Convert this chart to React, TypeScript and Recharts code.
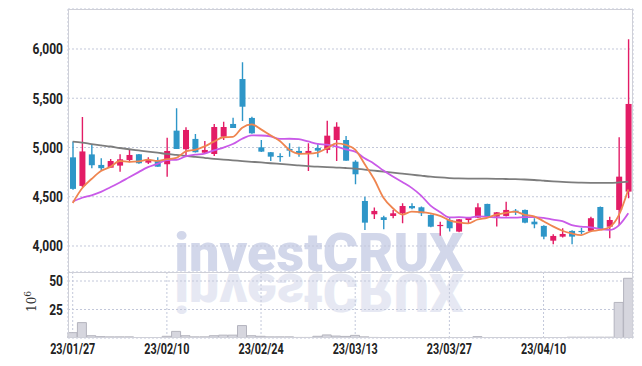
import React from 'react';
import { ComposedChart, Bar, Line, XAxis, YAxis, CartesianGrid } from 'recharts';

const dates = [
  '23/01/27', '23/01/30', '23/01/31', '23/02/01', '23/02/02', '23/02/03', '23/02/06', '23/02/07', '23/02/08', '23/02/09',
  '23/02/10', '23/02/13', '23/02/14', '23/02/15', '23/02/16', '23/02/17', '23/02/20', '23/02/21', '23/02/22', '23/02/23',
  '23/02/24', '23/02/27', '23/02/28', '23/03/02', '23/03/03', '23/03/06', '23/03/07', '23/03/08', '23/03/09', '23/03/10',
  '23/03/13', '23/03/14', '23/03/15', '23/03/16', '23/03/17', '23/03/20', '23/03/21', '23/03/22', '23/03/23', '23/03/24',
  '23/03/27', '23/03/28', '23/03/29', '23/03/30', '23/03/31', '23/04/03', '23/04/04', '23/04/05', '23/04/06', '23/04/07',
  '23/04/10', '23/04/11', '23/04/12', '23/04/13', '23/04/14', '23/04/17', '23/04/18', '23/04/19', '23/04/20', '23/04/21',
];

const opens = [
  4900, 4610, 4930, 4823, 4795, 4816, 4873, 4931, 4846, 4873,
  4830, 5171, 4982, 5087, 4947, 4934, 5109, 5239, 5695, 5300,
  5002, 4952, 4914, 4985, 4965, 4941, 4995, 4975, 5076, 5076,
  4856, 4457, 4322, 4292, 4305, 4332, 4406, 4393, 4315, 4204,
  4264, 4146, 4264, 4288, 4427, 4298, 4305, 4359, 4366, 4247,
  4204, 4054, 4095, 4153, 4153, 4153, 4396, 4196, 4366, 4552,
];
const highs = [
  5060, 5310, 5030, 4890, 4883, 4931, 4985, 4935, 4900, 4900,
  5100, 5398, 5205, 5137, 5066, 5239, 5262, 5303, 5865, 5313,
  5076, 4955, 4941, 5043, 5008, 5043, 5043, 5272, 5256, 5117,
  4870, 4501, 4390, 4308, 4366, 4434, 4434, 4400, 4320, 4247,
  4285, 4275, 4290, 4434, 4430, 4345, 4450, 4376, 4370, 4282,
  4210, 4119, 4180, 4160, 4186, 4298, 4400, 4298, 5104, 6098,
];
const lows = [
  4570, 4600, 4790, 4765, 4795, 4755, 4850, 4835, 4833, 4805,
  4704, 4985, 4924, 4950, 4940, 4914, 5076, 5198, 5269, 5140,
  4955, 4863, 4856, 4907, 4907, 4762, 4901, 4941, 4863, 4866,
  4627, 4163, 4275, 4170, 4282, 4231, 4373, 4305, 4190, 4105,
  4146, 4140, 4231, 4285, 4298, 4197, 4300, 4315, 4230, 4180,
  4069, 4018, 4085, 4018, 4119, 4150, 4163, 4079, 4214, 4485,
];
const closes = [
  4580, 4960, 4820, 4790, 4863, 4880, 4924, 4840, 4873, 4805,
  4965, 4985, 5178, 4952, 4975, 5208, 5208, 5198, 5414, 5144,
  4958, 4907, 4905, 4968, 4941, 4965, 4968, 5120, 5211, 4866,
  4728, 4237, 4356, 4264, 4332, 4406, 4383, 4332, 4196, 4214,
  4180, 4271, 4288, 4393, 4298, 4342, 4366, 4342, 4237, 4220,
  4095, 4102, 4122, 4095, 4143, 4282, 4173, 4264, 4704, 5442,
];
const ma5 = [
  4437, 4586, 4680, 4762, 4803, 4863, 4855, 4859, 4876, 4864,
  4881, 4894, 4961, 4977, 5011, 5060, 5104, 5108, 5201, 5234,
  5184, 5124, 5066, 4976, 4936, 4937, 4949, 4992, 5041, 5026,
  4979, 4832, 4680, 4490, 4383, 4319, 4348, 4343, 4330, 4306,
  4261, 4239, 4230, 4269, 4286, 4318, 4337, 4348, 4317, 4301,
  4252, 4199, 4155, 4127, 4111, 4149, 4163, 4191, 4313, 4573,
];
const ma10 = [
  4450, 4490, 4515, 4550, 4596, 4645, 4698, 4750, 4800, 4834,
  4872, 4875, 4910, 4927, 4938, 4971, 4999, 5035, 5089, 5123,
  5122, 5114, 5087, 5089, 5085, 5061, 5037, 5029, 5009, 4981,
  4958, 4891, 4836, 4766, 4705, 4649, 4590, 4512, 4410, 4345,
  4290, 4293, 4287, 4300, 4296, 4290, 4288, 4289, 4293, 4294,
  4285, 4268, 4252, 4212, 4196, 4190, 4171, 4163, 4210, 4333,
];
const maLong = [
  5059, 5050, 5035, 5022, 5010, 4995, 4982, 4970, 4958, 4947,
  4935, 4925, 4915, 4905, 4895, 4885, 4877, 4870, 4862, 4855,
  4848, 4840, 4833, 4826, 4818, 4810, 4805, 4800, 4796, 4792,
  4786, 4775, 4765, 4755, 4744, 4734, 4724, 4714, 4704, 4696,
  4690, 4686, 4684, 4683, 4683, 4682, 4680, 4678, 4675, 4670,
  4663, 4656, 4650, 4646, 4643, 4641, 4640, 4640, 4645, 4653,
];
const volumes = [
  4.7, 13.5, 2.0, 1.2, 1.0, 1.0, 1.0, 0.3, 0.3, 0.3,
  1.5, 5.8, 2.0, 1.0, 1.0, 2.0, 2.5, 2.5, 10.9, 2.0,
  1.5, 1.0, 1.0, 1.0, 0.5, 0.5, 1.5, 2.7, 1.7, 1.4,
  2.3, 1.0, 0.5, 0.4, 0.3, 0.3, 0.3, 0.3, 0.3, 0.3,
  0.3, 0.3, 0.3, 1.2, 0.3, 0.3, 0.3, 0.3, 0.3, 0.3,
  0.3, 0.3, 0.3, 0.7, 0.7, 0.7, 0.7, 0.7, 31.2, 52.4,
];

const dateTicks = ['23/01/27', '23/02/10', '23/02/24', '23/03/13', '23/03/27', '23/04/10'];
const priceTicks = [4000, 4500, 5000, 5500, 6000];
const volumeTicks = [25, 50];

const rows = dates.map((d, i) => ({
  date: d,
  range: [lows[i], highs[i]],
  open: opens[i],
  high: highs[i],
  low: lows[i],
  close: closes[i],
  vol: volumes[i],
  ma5: ma5[i],
  ma10: ma10[i],
  maLong: maLong[i],
}));

const RED = '#e31c66';
const BLUE = '#2e96c8';
const GRID = '#c3c8da';
const FONT = "Roboto, 'DejaVu Sans', sans-serif";

const YTick = (props: any) => {
  const { x, y, payload } = props;
  const label = Number(payload.value).toLocaleString('en-US');
  return (
    <text
      transform={`translate(${x},${y}) scale(0.8,1)`}
      textAnchor="end"
      dy="0.36em"
      fontFamily={FONT}
      fontWeight={700}
      fontSize={15}
      fill="#222"
    >
      {label}
    </text>
  );
};

const XTick = (props: any) => {
  const { x, y, payload } = props;
  return (
    <text
      transform={`translate(${x},${y}) scale(0.72,1)`}
      textAnchor="middle"
      dy="0.72em"
      fontFamily={FONT}
      fontWeight={700}
      fontSize={15}
      fill="#222"
    >
      {payload.value}
    </text>
  );
};

const Candle = (props: any) => {
  let { x, y, width, height } = props;
  const p = props.payload || {};
  const { open, close, high, low } = p;
  if (height < 0) {
    y = y + height;
    height = -height;
  }
  const span = high - low;
  const ratio = span > 0 ? height / span : 0;
  const py = (v: number) => y + (high - v) * ratio;
  const up = close >= open;
  const color = up ? RED : BLUE;
  const top = py(Math.max(open, close));
  const bot = py(Math.min(open, close));
  const cx = x + width / 2;
  return (
    <g>
      <line x1={cx} x2={cx} y1={y} y2={y + height} stroke={color} strokeWidth={1.4} />
      <rect x={x} y={top} width={width} height={Math.max(1.2, bot - top)} fill={color} />
    </g>
  );
};

export default function App() {
  return (
    <div style={{ position: 'absolute', left: 0, top: 0, width: 642, height: 366, background: '#fff', overflow: 'hidden' }}>
      <svg width={642} height={366} style={{ position: 'absolute', left: 0, top: 0 }}>
        <text id="wm" x={319} y={271} textAnchor="middle" fontFamily="Roboto, 'DejaVu Sans', sans-serif" fontWeight={900} fontSize={54} fill="#d2d7ea">
          investCRUX
        </text>
        <use href="#wm" transform="translate(0,545) scale(1,-1)" opacity={0.55} />
      </svg>

      <div style={{ position: 'absolute', left: 0, top: 0 }}>
        <ComposedChart width={642} height={272} data={rows} margin={{ top: 9, right: 9, left: 0, bottom: 0 }}>
          <CartesianGrid stroke={GRID} strokeDasharray="2 2" />
          <XAxis dataKey="date" ticks={dateTicks} interval={0} height={0} tick={false} axisLine={false} tickLine={false} />
          <YAxis
            width={68}
            domain={[3736, 6406]}
            allowDataOverflow
            ticks={priceTicks}
            axisLine={false}
            tickLine={false}
            tickSize={3}
            tickMargin={2}
            tick={<YTick />}
          />
          <Bar dataKey="range" barSize={6} shape={Candle} isAnimationActive={false} />
          <Line type="monotone" dataKey="maLong" stroke="#7d7d7d" strokeWidth={1.8} dot={false} isAnimationActive={false} />
          <Line type="monotone" dataKey="ma10" stroke="#c95ae8" strokeWidth={1.8} dot={false} isAnimationActive={false} />
          <Line type="monotone" dataKey="ma5" stroke="#ef8550" strokeWidth={1.8} dot={false} isAnimationActive={false} />
        </ComposedChart>
      </div>

      <div style={{ position: 'absolute', left: 0, top: 272 }}>
        <ComposedChart width={642} height={94} data={rows} margin={{ top: 0, right: 9, left: 0, bottom: 0 }} barCategoryGap={0}>
          <CartesianGrid stroke={GRID} strokeDasharray="2 2" />
          <XAxis
            dataKey="date"
            ticks={dateTicks}
            interval={0}
            height={28}
            axisLine={false}
            tickLine={false}
            tickSize={3}
            tickMargin={2}
            tick={<XTick />}
          />
          <YAxis
            width={68}
            domain={[0, 57.9]}
            allowDataOverflow
            ticks={volumeTicks}
            axisLine={false}
            tickLine={false}
            tickSize={3}
            tickMargin={2}
            tick={<YTick />}
          />
          <Bar dataKey="vol" fill="#d6d6de" stroke="#b4b4be" strokeWidth={1} isAnimationActive={false} />
        </ComposedChart>
      </div>

      <svg width={642} height={366} style={{ position: 'absolute', left: 0, top: 0, pointerEvents: 'none' }}>
        <rect x={68.5} y={9.5} width={564} height={328} fill="none" stroke="#cfd0d8" strokeWidth={1} />
        <line x1={68} x2={633} y1={272.5} y2={272.5} stroke="#cfd0d8" strokeWidth={1} />
        <text transform="translate(36,312) rotate(-90)" fontFamily="'DejaVu Serif', serif" fontSize={12} fill="#333">
          10<tspan dy={-5} fontSize={9}>6</tspan>
        </text>
      </svg>
    </div>
  );
}
